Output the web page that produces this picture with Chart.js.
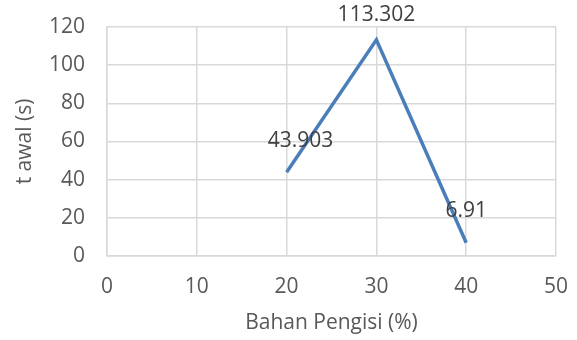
<!DOCTYPE html>
<html>
<head>
<meta charset="utf-8">
<script src="https://cdn.jsdelivr.net/npm/chart.js@4"></script>
<style>
  html, body { margin: 0; padding: 0; background: #fff; }
  #wrap { width: 577px; height: 340px; }
</style>
</head>
<body>
<div id="wrap"><canvas id="c" width="577" height="340"></canvas></div>
<script>
// Filler content (%) against initial time (s)
const fillerPct = [20, 30, 40];
const tAwal = [43.903, 113.302, 6.91];
const valueLabels = ['43.903', '113.302', '6.91'];
const xTitle = 'Bahan Pengisi (%)';
const yTitle = 't awal (s)';

const FONT = "'Open Sans', 'Liberation Sans', sans-serif";
const TEXT = '#595959';
const GRID = '#d9d9d9';
const LINE = '#4a7ebb';

// label offsets relative to each point (px)
const labelOffsets = [[14, -31], [0, -25], [0, -32]];

const pointLabels = {
  id: 'pointLabels',
  afterDatasetsDraw(chart) {
    const ctx = chart.ctx;
    const meta = chart.getDatasetMeta(0);
    ctx.save();
    ctx.font = '21px ' + FONT;
    ctx.fillStyle = '#404040';
    ctx.textAlign = 'center';
    ctx.textBaseline = 'middle';
    meta.data.forEach((pt, i) => {
      const [dx, dy] = labelOffsets[i];
      ctx.fillText(valueLabels[i], pt.x + dx, pt.y + dy);
    });
    ctx.restore();
  }
};

new Chart(document.getElementById('c'), {
  type: 'line',
  data: {
    datasets: [{
      data: fillerPct.map((x, i) => ({ x, y: tAwal[i] })),
      borderColor: LINE,
      borderWidth: 3.5,
      pointRadius: 0,
      tension: 0,
      fill: false
    }]
  },
  options: {
    responsive: false,
    animation: false,
    layout: { padding: { top: 27, right: 21, left: 0, bottom: 0 } },
    plugins: { legend: { display: false }, tooltip: { enabled: false } },
    scales: {
      x: {
        type: 'linear',
        min: 0, max: 50,
        ticks: { stepSize: 10, color: TEXT, font: { family: FONT, size: 21 }, padding: 18 },
        grid: { color: GRID, lineWidth: 1.5, drawTicks: false },
        border: { color: GRID, width: 1.5 },
        title: { display: true, text: xTitle, color: TEXT, font: { family: FONT, size: 21 }, padding: { top: 0, bottom: 4 } },
        afterFit(s) { s.height = 84; s.paddingLeft = 0; s.paddingRight = 0; }
      },
      y: {
        min: 0, max: 120,
        ticks: { stepSize: 20, color: TEXT, font: { family: FONT, size: 21 }, padding: 22 },
        grid: { color: GRID, lineWidth: 1.5, drawTicks: false },
        border: { color: GRID, width: 1.5 },
        title: { display: true, text: yTitle, color: TEXT, font: { family: FONT, size: 21 }, padding: { top: 12, bottom: 0 } },
        afterFit(s) { s.width = 107; s.paddingTop = 0; s.paddingBottom = 0; }
      }
    }
  },
  plugins: [pointLabels]
});
</script>
</body>
</html>
